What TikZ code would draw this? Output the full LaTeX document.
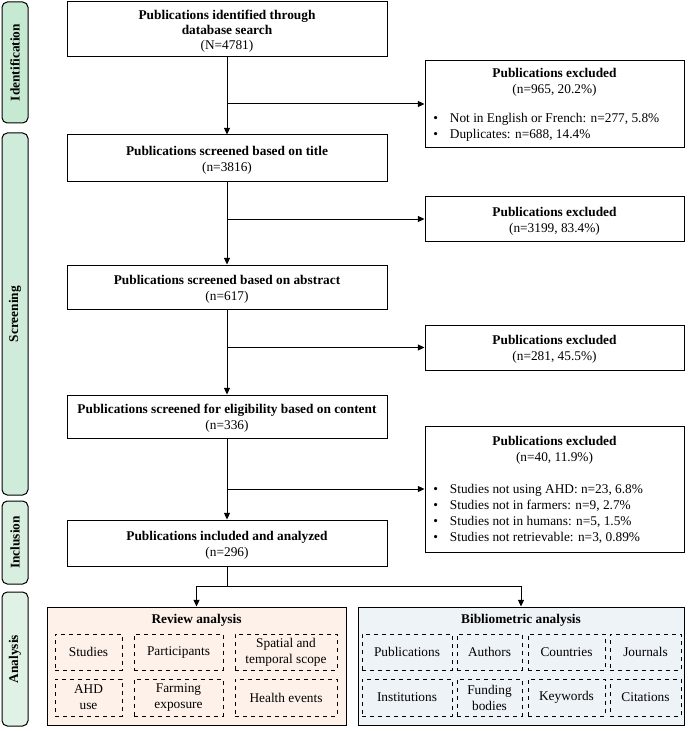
\documentclass[tikz,border=0pt]{standalone}
\usepackage{fontspec}
\setmainfont{Liberation Serif}
\usetikzlibrary{arrows.meta}
\definecolor{identfill}{HTML}{C6E9D2}
\definecolor{screenfill}{HTML}{CFECDA}
\definecolor{inclfill}{HTML}{D8EFE0}
\definecolor{analfill}{HTML}{E0F2E5}
\definecolor{reviewfill}{HTML}{FDF1E9}
\definecolor{bibfill}{HTML}{EEF3F8}
\begin{document}
\begin{tikzpicture}[x=0.75pt,y=-0.75pt,
  font=\fontsize{10}{12}\selectfont,
  arr/.style={-{Triangle[length=5pt,width=4.5pt]},line width=0.75pt},
  plainline/.style={line width=0.75pt},
  mainbox/.style={draw,line width=0.75pt,fill=white,minimum width=240pt,inner sep=0pt},
  exbox/.style={draw,line width=0.75pt,fill=white,minimum width=194.25pt,inner sep=0pt},
  boxtext/.style={align=center,inner sep=0pt},
  sidebar/.style={draw,line width=0.75pt,rounded corners=4pt,minimum width=19.5pt,inner sep=0pt},
  sidetext/.style={rotate=90,font=\fontsize{10}{12}\selectfont\bfseries},
  groupbox/.style={draw,line width=0.75pt,minimum height=88.5pt,inner sep=0pt},
  cell/.style={draw,dashed,line width=0.6pt,align=center,inner sep=0pt,font=\fontsize{10}{12}\selectfont},
  listtext/.style={anchor=west,inner sep=0pt,align=left}
]
\useasboundingbox (0,0) rectangle (688,731);

% side bars
\node[sidebar,fill=identfill,minimum height=90.75pt] (sbident) at (15,62.5) {};
\node[sidetext] (tident) at (sbident) {Identification};
\node[sidebar,fill=screenfill,minimum height=271.5pt] (sbscreen) at (15,314) {};
\node[sidetext] (tscreen) at (sbscreen) {Screening};
\node[sidebar,fill=inclfill,minimum height=62.25pt] (sbincl) at (15,542.5) {};
\node[sidetext] (tincl) at (sbincl) {Inclusion};
\node[sidebar,fill=analfill,minimum height=100.5pt] (sbanal) at (15,659) {};
\node[sidetext] (tanal) at (sbanal) {Analysis};

% main boxes
\node[mainbox,minimum height=41.25pt] (box1) at (227,29.5) {};
\node[boxtext,font=\fontsize{10}{11.25}\selectfont] (box1t) at ([yshift=-1.2pt]box1.center)
  {\textbf{Publications identified through}\\\textbf{database search}\\(N=4781)};
\node[mainbox,minimum height=34.5pt] (box2) at (227,158) {};
\node[boxtext] (box2t) at ([yshift=-1.9pt]box2.center)
  {\textbf{Publications screened based on title}\\(n=3816)};
\node[mainbox,minimum height=33pt] (box3) at (227,287) {};
\node[boxtext] (box3t) at ([yshift=-1.9pt]box3.center)
  {\textbf{Publications screened based on abstract}\\(n=617)};
\node[mainbox,minimum height=32.25pt] (box4) at (227,416.5) {};
\node[boxtext] (box4t) at ([yshift=-1.5pt]box4.center)
  {\textbf{Publications screened for eligibility based on content}\\(n=336)};
\node[mainbox,minimum height=34.5pt] (box5) at (227,543) {};
\node[boxtext] (box5t) at ([yshift=-1.9pt]box5.center)
  {\textbf{Publications included and analyzed}\\(n=296)};

% exclusion boxes
\node[exbox,minimum height=65.25pt] (ex1) at (554.5,104) {};
\node[boxtext] (ex1t) at (554.5,82) {\textbf{Publications excluded}\\(n=965, 20.2\%)};
\node[listtext] (ex1l) at (433,127) {\begin{tabular}{@{}l@{\hspace{9pt}}l@{}}
\textbullet & Not in English or French: n=277, 5.8\%\\
\textbullet & Duplicates: n=688, 14.4\%\end{tabular}};

\node[exbox,minimum height=33.75pt] (ex2) at (554.5,219) {};
\node[boxtext] (ex2t) at ([yshift=-1.5pt]ex2.center) {\textbf{Publications excluded}\\(n=3199, 83.4\%)};
\node[exbox,minimum height=33.75pt] (ex3) at (554.5,347.5) {};
\node[boxtext] (ex3t) at ([yshift=-1.5pt]ex3.center) {\textbf{Publications excluded}\\(n=281, 45.5\%)};

\node[exbox,minimum height=94.5pt] (ex4) at (554.5,489) {};
\node[boxtext] (ex4t) at (554.5,450) {\textbf{Publications excluded}\\(n=40, 11.9\%)};
\node[listtext] (ex4l) at (433,514) {\begin{tabular}{@{}l@{\hspace{9pt}}l@{}}
\textbullet & Studies not using AHD: n=23, 6.8\%\\
\textbullet & Studies not in farmers: n=9, 2.7\%\\
\textbullet & Studies not in humans: n=5, 1.5\%\\
\textbullet & Studies not retrievable: n=3, 0.89\%\end{tabular}};

% main flow
\draw[arr] (box1) -- (box2);
\draw[arr] (box2) -- (box3);
\draw[arr] (box3) -- (box4);
\draw[arr] (box4) -- (box5);

\coordinate (b1) at (box1.south |- ex1.west);
\coordinate (b2) at (box2.south |- ex2.west);
\coordinate (b3) at (box3.south |- ex3.west);
\coordinate (b4) at (box4.south |- ex4.west);
\draw[arr] (b1) -- (ex1.west);
\draw[arr] (b2) -- (ex2.west);
\draw[arr] (b3) -- (ex3.west);
\draw[arr] (b4) -- (ex4.west);

% analysis groups
\node[groupbox,fill=reviewfill,minimum width=224.25pt] (review) at (196.5,666) {};
\node[groupbox,fill=bibfill,minimum width=244.5pt] (biblio) at (521,666) {};
\node[inner sep=0pt] (reviewt) at (196.5,620) {\textbf{Review analysis}};
\node[inner sep=0pt] (bibliot) at (521,620) {\textbf{Bibliometric analysis}};

\coordinate (split) at (227,586);
\draw[plainline] (box5) -- (split);
\draw[arr] (split) -| (review.north);
\draw[arr] (split) -| (biblio.north);

% review cells
\node[cell,minimum width=50.25pt,minimum height=27pt] (rc1) at (88.5,652) {Studies};
\node[cell,minimum width=66.75pt,minimum height=27pt] (rc2) at (178.5,652) {Participants};
\node[cell,minimum width=76.5pt,minimum height=27pt] (rc3) at (286,652) {Spatial and\\temporal scope};
\node[cell,minimum width=50.25pt,minimum height=27.75pt] (rc4) at (88.5,697.5) {AHD\\use};
\node[cell,minimum width=66.75pt,minimum height=27.75pt] (rc5) at (178.5,697.5) {Farming\\exposure};
\node[cell,minimum width=76.5pt,minimum height=27.75pt] (rc6) at (286,697.5) {Health events};

% bibliometric cells
\node[cell,minimum width=67.5pt,minimum height=27pt] (bc1) at (407,652) {Publications};
\node[cell,minimum width=48.75pt,minimum height=27pt] (bc2) at (489.5,652) {Authors};
\node[cell,minimum width=57.75pt,minimum height=27pt] (bc3) at (566.5,652) {Countries};
\node[cell,minimum width=53.25pt,minimum height=27pt] (bc4) at (645.5,652) {Journals};
\node[cell,minimum width=67.5pt,minimum height=27.75pt] (bc5) at (407,697.5) {Institutions};
\node[cell,minimum width=48.75pt,minimum height=27.75pt] (bc6) at (489.5,697.5) {Funding\\bodies};
\node[cell,minimum width=57.75pt,minimum height=27.75pt] (bc7) at (566.5,697.5) {Keywords};
\node[cell,minimum width=53.25pt,minimum height=27.75pt] (bc8) at (645.5,697.5) {Citations};
\end{tikzpicture}
\end{document}
